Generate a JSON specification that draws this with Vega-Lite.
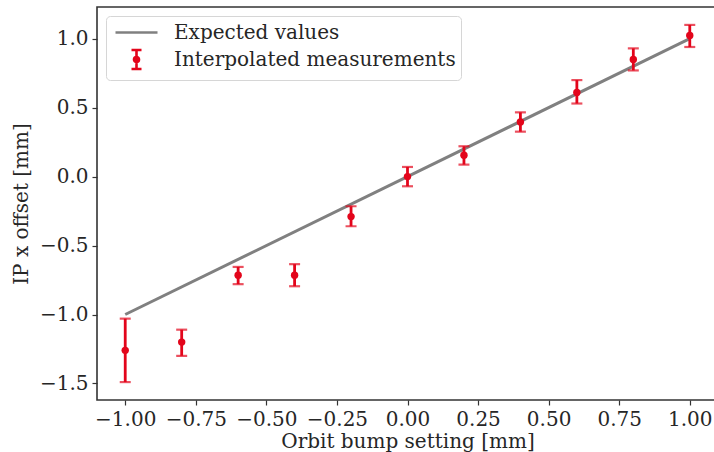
{
  "$schema": "https://vega.github.io/schema/vega-lite/v6.json",
  "autosize": {"type": "none"},
  "padding": {"left": 97, "top": 7, "right": 0, "bottom": 52},
  "width": 621,
  "height": 393,
  "background": "white",
  "config": {
    "font": "DejaVu Serif",
    "view": {"stroke": "#333333", "strokeWidth": 1.6},
    "axis": {
      "grid": false,
      "domain": false,
      "tickColor": "#333333",
      "tickSize": 5,
      "tickWidth": 1.2,
      "labelFont": "DejaVu Serif",
      "labelFontSize": 20,
      "labelColor": "#262626",
      "titleFont": "DejaVu Serif",
      "titleFontSize": 20,
      "titleFontWeight": "normal",
      "titleColor": "#262626",
      "labelPadding": 4
    }
  },
  "datasets": {
    "expected": [
      {"x": -1.0, "y": -1.0, "series": "Expected values"},
      {"x": 1.0, "y": 1.0, "series": "Expected values"}
    ],
    "meas": [
      {"x": -1.0, "y": -1.26, "lo": -1.49, "hi": -1.03, "series": "Interpolated measurements"},
      {"x": -0.8, "y": -1.2, "lo": -1.3, "hi": -1.11, "series": "Interpolated measurements"},
      {"x": -0.6, "y": -0.715, "lo": -0.78, "hi": -0.655, "series": "Interpolated measurements"},
      {"x": -0.4, "y": -0.715, "lo": -0.795, "hi": -0.635, "series": "Interpolated measurements"},
      {"x": -0.2, "y": -0.29, "lo": -0.36, "hi": -0.215, "series": "Interpolated measurements"},
      {"x": 0.0, "y": 0.0, "lo": -0.07, "hi": 0.07, "series": "Interpolated measurements"},
      {"x": 0.2, "y": 0.155, "lo": 0.087, "hi": 0.22, "series": "Interpolated measurements"},
      {"x": 0.4, "y": 0.396, "lo": 0.326, "hi": 0.466, "series": "Interpolated measurements"},
      {"x": 0.6, "y": 0.61, "lo": 0.53, "hi": 0.7, "series": "Interpolated measurements"},
      {"x": 0.8, "y": 0.85, "lo": 0.77, "hi": 0.93, "series": "Interpolated measurements"},
      {"x": 1.0, "y": 1.024, "lo": 0.94, "hi": 1.1, "series": "Interpolated measurements"}
    ]
  },
  "encoding": {
    "x": {
      "field": "x", "type": "quantitative",
      "scale": {"domain": [-1.1, 1.1], "nice": false, "zero": false},
      "axis": {"values": [-1, -0.75, -0.5, -0.25, 0, 0.25, 0.5, 0.75, 1], "format": ".2f", "title": "Orbit bump setting [mm]", "titlePadding": 2}
    },
    "y": {
      "field": "y", "type": "quantitative",
      "scale": {"domain": [-1.62, 1.23], "nice": false, "zero": false},
      "axis": {"values": [-1.5, -1, -0.5, 0, 0.5, 1], "format": ".1f", "title": "IP x offset [mm]", "titlePadding": 8}
    }
  },
  "layer": [
    {
      "data": {"name": "expected"},
      "mark": {"type": "line", "strokeWidth": 3, "clip": true},
      "encoding": {
        "color": {
          "field": "series", "type": "nominal",
          "scale": {"domain": ["Expected values", "Interpolated measurements"], "range": ["#808080", "#e3051b"]},
          "legend": {
            "title": null,
            "orient": "top-left",
            "offset": 9,
            "padding": 5,
            "labelFont": "DejaVu Serif",
            "labelFontSize": 20,
            "labelColor": "#262626",
            "labelOffset": 40,
            "symbolSize": 400,
            "symbolStrokeWidth": 3,
            "rowPadding": 1,
            "strokeColor": "#d6d6d6",
            "fillColor": "white",
            "cornerRadius": 4,
            "labelLimit": 400,
            "encode": {
              "symbols": {"update": {"stroke": {"scale": "color", "field": "value"}, "strokeWidth": {"value": 2.6}}}
            }
          }
        },
        "shape": {
          "field": "series", "type": "nominal",
          "scale": {"domain": ["Expected values", "Interpolated measurements"], "range": ["M-0.7,0H3.5", "M1.4,-0.95V0.95M0.9,-0.95H1.9M0.9,0.95H1.9M1.15,0A0.25,0.25,0,1,0,1.65,0A0.25,0.25,0,1,0,1.15,0Z"]}
        }
      }
    },
    {
      "data": {"name": "meas"},
      "mark": {"type": "rule", "strokeWidth": 2.8, "color": "#e3051b"},
      "encoding": {"y": {"field": "lo", "type": "quantitative"}, "y2": {"field": "hi"}}
    },
    {
      "data": {"name": "meas"},
      "mark": {"type": "tick", "orient": "horizontal", "size": 11, "thickness": 2.2, "color": "#e3051b"},
      "encoding": {"y": {"field": "lo", "type": "quantitative"}}
    },
    {
      "data": {"name": "meas"},
      "mark": {"type": "tick", "orient": "horizontal", "size": 11, "thickness": 2.2, "color": "#e3051b"},
      "encoding": {"y": {"field": "hi", "type": "quantitative"}}
    },
    {
      "data": {"name": "meas"},
      "mark": {"type": "point", "filled": true, "size": 55, "opacity": 1},
      "encoding": {
        "color": {"field": "series", "type": "nominal"},
        "shape": {"value": "circle"}
      }
    }
  ]
}
